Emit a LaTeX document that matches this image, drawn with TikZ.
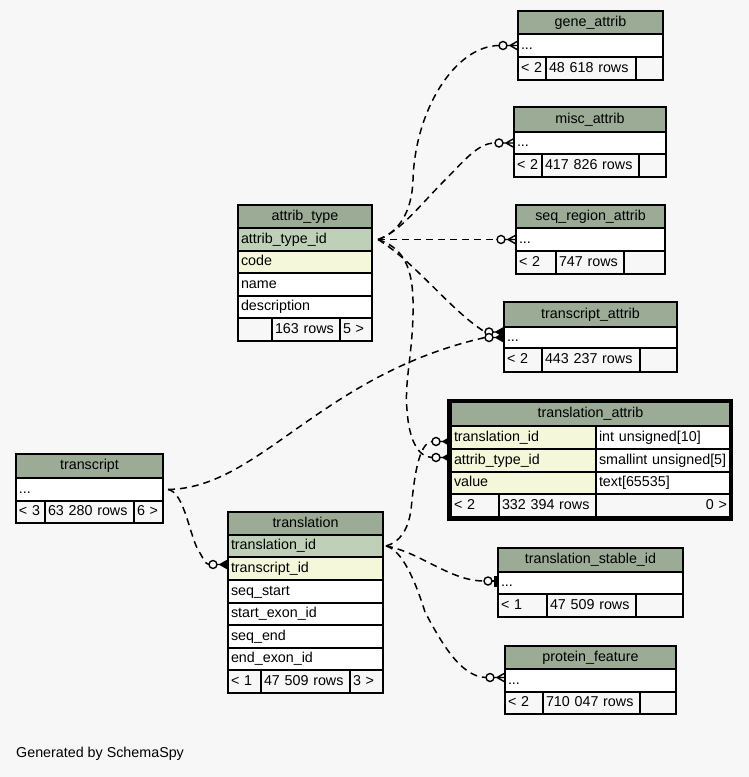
\documentclass[tikz,border=0pt]{standalone}
\usepackage{fontspec}
\setmainfont{Liberation Sans}
\usetikzlibrary{calc}
\definecolor{hdr}{HTML}{9BAB96}
\definecolor{pk}{HTML}{BED1B8}
\definecolor{fk}{HTML}{F4F7DA}
\definecolor{bgc}{HTML}{F7F7F7}
\newcommand\tcell[8]{\node[tc, fill=#6, align=#7, minimum width={#4*1pt}, minimum height={#5*1pt}, text width={(#4-6)*1pt}] (#1) at (#2,#3) {#8};}
\tikzset{
  tc/.style={draw, line width=1.5pt, anchor=north west, outer sep=0pt, inner xsep=3pt, inner ysep=0pt,
    text height=10.5pt, text depth=3.5pt, font=\fontsize{14.3}{16}\selectfont},
  rel/.style={dash pattern=on 7pt off 5pt, line width=1.5pt},
  crowo/.pic={
    \fill[bgc] (-15,0) circle[radius=4];
    \draw[solid, line width=1.4pt] (-15,0) circle[radius=4];
    \draw[solid, line width=1.4pt] (-11,0) -- (-8,0) (0,-4.5) -- (-8,0) -- (0,4.5) (-8,0) -- (0,0);
  },
  crowof/.pic={
    \fill[bgc] (-15,0) circle[radius=4];
    \draw[solid, line width=1.4pt] (-15,0) circle[radius=4];
    \fill (-8,0) -- (0,-4.5) -- (0,4.5) -- cycle;
    \draw[solid, line width=1.4pt] (-11,0) -- (-8,0) (0,-4.5) -- (-8,0) -- (0,4.5);
  },
  teeo/.pic={
    \fill[bgc] (-10,0) circle[radius=4];
    \draw[solid, line width=1.4pt] (-10,0) circle[radius=4];
    \draw[solid, line width=1.4pt] (-6,0) -- (-4.5,0);
    \fill (-4.5,-5.5) rectangle (-0.5,5.5);
  }
}
\begin{document}
\begin{tikzpicture}[x=1pt,y=-1pt]
\fill[bgc] (0,0) rectangle (749,777);
\useasboundingbox (0,0) rectangle (749,777);

% gene_attrib
\tcell{gah}{518}{11}{145}{23}{hdr}{center}{gene\_attrib}
\tcell{ga}{518}{34}{145}{23}{white}{left}{...}
\tcell{gaf1}{518}{57}{28}{23}{bgc}{left}{<~2}
\tcell{gaf2}{546}{57}{90}{23}{bgc}{left}{48~618~rows}
\tcell{gaf3}{636}{57}{27}{23}{bgc}{left}{}

% misc_attrib
\tcell{mah}{514}{107}{152}{25}{hdr}{center}{misc\_attrib}
\tcell{ma}{514}{132}{152}{22}{white}{left}{...}
\tcell{maf1}{514}{154}{28}{23}{bgc}{left}{<~2}
\tcell{maf2}{542}{154}{97}{23}{bgc}{left}{417~826~rows}
\tcell{maf3}{639}{154}{27}{23}{bgc}{left}{}

% seq_region_attrib
\tcell{sah}{516}{205}{149}{23}{hdr}{center}{seq\_region\_attrib}
\tcell{sa}{516}{228}{149}{23}{white}{left}{...}
\tcell{saf1}{516}{251}{40}{23}{bgc}{left}{<~2}
\tcell{saf2}{556}{251}{68}{23}{bgc}{left}{747~rows}
\tcell{saf3}{624}{251}{41}{23}{bgc}{left}{}

% transcript_attrib
\tcell{trah}{504}{302}{173}{25}{hdr}{center}{transcript\_attrib}
\tcell{tra}{504}{327}{173}{21}{white}{left}{...}
\tcell{traf1}{504}{348}{38}{24}{bgc}{left}{<~2}
\tcell{traf2}{542}{348}{98}{24}{bgc}{left}{443~237~rows}
\tcell{traf3}{640}{348}{37}{24}{bgc}{left}{}

% translation_attrib
\tcell{tah}{451}{402}{279}{24}{hdr}{center}{translation\_attrib}
\tcell{ta1}{451}{426}{145}{23}{fk}{left}{translation\_id}
\tcell{ta1t}{596}{426}{134}{23}{white}{left}{int~unsigned[10]}
\tcell{ta2}{451}{449}{145}{23}{fk}{left}{attrib\_type\_id}
\tcell{ta2t}{596}{449}{134}{23}{white}{left}{smallint~unsigned[5]}
\tcell{ta3}{451}{472}{145}{22}{fk}{left}{value}
\tcell{ta3t}{596}{472}{134}{22}{white}{left}{text[65535]}
\tcell{taf1}{451}{494}{48}{23}{bgc}{left}{<~2}
\tcell{taf2}{499}{494}{97}{23}{bgc}{left}{332~394~rows}
\tcell{taf3}{596}{494}{134}{23}{bgc}{right}{0~>}
\draw[line width=3.5pt] (449.2,400.8) rectangle (731.7,519.2);

% transcript
\tcell{trh}{16}{454}{147}{24}{hdr}{center}{transcript}
\tcell{tr}{16}{478}{147}{23}{white}{left}{...}
\tcell{trf1}{16}{501}{29}{22}{bgc}{left}{<~3}
\tcell{trf2}{45}{501}{89}{22}{bgc}{left}{63~280~rows}
\tcell{trf3}{134}{501}{29}{22}{bgc}{left}{6~>}

% translation
\tcell{tlh}{228}{512}{155}{23}{hdr}{center}{translation}
\tcell{tl1}{228}{535}{155}{22}{pk}{left}{translation\_id}
\tcell{tl2}{228}{557}{155}{23}{fk}{left}{transcript\_id}
\tcell{tl3}{228}{580}{155}{23}{white}{left}{seq\_start}
\tcell{tl4}{228}{603}{155}{22}{white}{left}{start\_exon\_id}
\tcell{tl5}{228}{625}{155}{23}{white}{left}{seq\_end}
\tcell{tl6}{228}{648}{155}{22}{white}{left}{end\_exon\_id}
\tcell{tlf1}{228}{670}{33}{23}{bgc}{left}{<~1}
\tcell{tlf2}{261}{670}{89}{23}{bgc}{left}{47~509~rows}
\tcell{tlf3}{350}{670}{33}{23}{bgc}{left}{3~>}

% attrib_type
\tcell{ath}{238}{205}{134}{23}{hdr}{center}{attrib\_type}
\tcell{at1}{238}{228}{134}{23}{pk}{left}{attrib\_type\_id}
\tcell{at2}{238}{251}{134}{22}{fk}{left}{code}
\tcell{at3}{238}{273}{134}{23}{white}{left}{name}
\tcell{at4}{238}{296}{134}{22}{white}{left}{description}
\tcell{atf1}{238}{318}{34}{23}{bgc}{left}{}
\tcell{atf2}{272}{318}{68}{23}{bgc}{left}{163~rows}
\tcell{atf3}{340}{318}{32}{23}{bgc}{left}{5~>}

% translation_stable_id
\tcell{tsh}{498}{548}{185}{24}{hdr}{center}{translation\_stable\_id}
\tcell{ts}{498}{572}{185}{22}{white}{left}{...}
\tcell{tsf1}{498}{594}{49}{23}{bgc}{left}{<~1}
\tcell{tsf2}{547}{594}{89}{23}{bgc}{left}{47~509~rows}
\tcell{tsf3}{636}{594}{47}{23}{bgc}{left}{}

% protein_feature
\tcell{pfh}{505}{646}{171}{23}{hdr}{center}{protein\_feature}
\tcell{pf}{505}{669}{171}{23}{white}{left}{...}
\tcell{pff1}{505}{692}{38}{22}{bgc}{left}{<~2}
\tcell{pff2}{543}{692}{97}{22}{bgc}{left}{710~047~rows}
\tcell{pff3}{640}{692}{36}{22}{bgc}{left}{}

\node[anchor=base west, inner sep=0pt, font=\fontsize{14.3}{16}\selectfont] (gen) at (16,757) {Generated by SchemaSpy};

% connectors
\coordinate (atsrc) at ([xshift=6pt]at1.east);
\coordinate (tlsrc) at ([xshift=3pt]tl1.east);
\coordinate (trsrc) at ([xshift=5pt]tr.east);

\draw[rel] (atsrc) .. controls (400,232) and (412,210) .. (413,180) .. controls (415,110) and (455,46) .. ($(ga.west)+(-19,0)$);
\draw[rel] (atsrc) .. controls (400,232) and (420,205) .. (445,180) .. controls (465,160) and (478,143) .. ($(ma.west)+(-19,0)$);
\draw[rel] (atsrc) -- ($(sa.west)+(-19,0)$);
\draw[rel] (atsrc) .. controls (415,262) and (450,310) .. ($(tra.west)+(-19,-5.5)$);
\draw[rel] (trsrc) .. controls (260,488) and (320,375) .. ($(tra.west)+(-19,0)$);
\draw[rel] (atsrc) .. controls (400,247) and (412,262) .. (413,300) .. controls (414,350) and (404,380) .. (407,410) .. controls (409,440) and (418,457) .. ($(ta2.west)+(-19,-3)$);
\draw[rel] (tlsrc) .. controls (400,542) and (408,530) .. (411,510) .. controls (414,480) and (418,443) .. ($(ta1.west)+(-19,4)$);
\draw[rel] (trsrc) .. controls (185,492) and (190,540) .. (200,553) .. controls (203,558) and (205,564) .. ($(tl2.west)+(-19,-4)$);
\draw[rel] (tlsrc) .. controls (420,552) and (450,581) .. ($(ts.west)+(-14,-2)$);
\draw[rel] (tlsrc) .. controls (402,550) and (415,580) .. (425,612) .. controls (440,640) and (460,677) .. ($(pf.west)+(-19,-3)$);

\pic at (ga.west) {crowo};
\pic at (ma.west) {crowo};
\pic at (sa.west) {crowo};
\pic at ($(tra.west)+(0,-5.5)$) {crowof};
\pic at (tra.west) {crowof};
\pic at ($(ta2.west)+(0,-3)$) {crowof};
\pic at ($(ta1.west)+(0,4)$) {crowof};
\pic at ($(tl2.west)+(0,-4)$) {crowof};
\pic at ($(ts.west)+(0,-2)$) {teeo};
\pic at ($(pf.west)+(0,-3)$) {crowo};
\end{tikzpicture}
\end{document}
